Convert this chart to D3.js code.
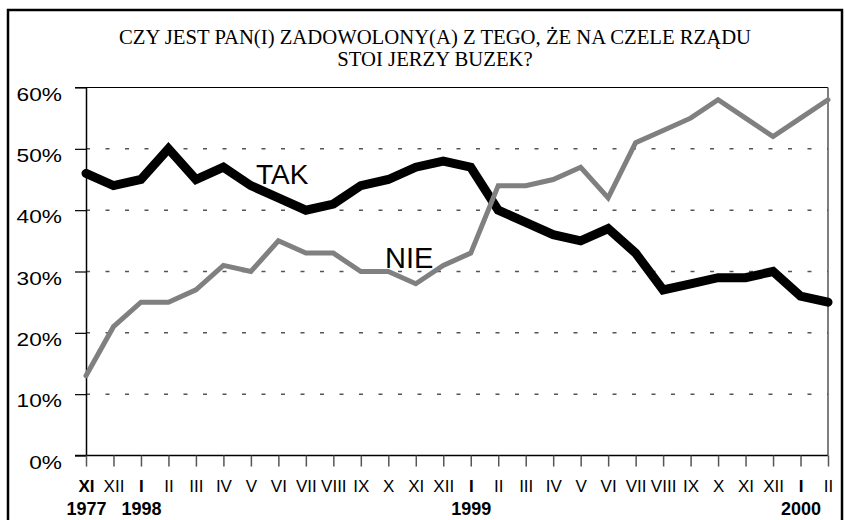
<!DOCTYPE html>
<html>
<head>
<meta charset="utf-8">
<script src="https://cdn.jsdelivr.net/npm/d3@7"></script>
<style>
  body { margin: 0; background: #fff; }
  svg { display: block; }
</style>
</head>
<body>
<script>
const months = ['XI', 'XII', 'I', 'II', 'III', 'IV', 'V', 'VI', 'VII', 'VIII', 'IX', 'X', 'XI', 'XII',
  'I', 'II', 'III', 'IV', 'V', 'VI', 'VII', 'VIII', 'IX', 'X', 'XI', 'XII', 'I', 'II'];
const years = ['1977', '', '1998', '', '', '', '', '', '', '', '', '', '', '',
  '1999', '', '', '', '', '', '', '', '', '', '', '', '2000', ''];
const tak = [46, 44, 45, 50, 45, 47, 44, 42, 40, 41, 44, 45, 47, 48,
  47, 40, 38, 36, 35, 37, 33, 27, 28, 29, 29, 30, 26, 25];
const nie = [13, 21, 25, 25, 27, 31, 30, 35, 33, 33, 30, 30, 28, 31,
  33, 44, 44, 45, 47, 42, 51, 53, 55, 58, 55, 52, 55, 58];
const yTicks = [0, 10, 20, 30, 40, 50, 60];
const titleLines = ['CZY JEST PAN(I) ZADOWOLONY(A) Z TEGO, ŻE NA CZELE RZĄDU', 'STOI JERZY BUZEK?'];

const width = 845, height = 520;
const plotLeft = 86, plotRight = 828, plotTop = 87.5, plotBottom = 455.5;

const svg = d3.select('body')
  .append('svg')
  .attr('width', width)
  .attr('height', height);

// outer frame
svg.append('rect')
  .attr('x', 8).attr('y', 10)
  .attr('width', 834).attr('height', 530)
  .attr('fill', 'none')
  .attr('stroke', '#000')
  .attr('stroke-width', 2.5);

svg.append('g')
  .selectAll('text')
  .data(titleLines)
  .enter()
  .append('text')
  .attr('x', 435)
  .attr('y', (d, i) => 44 + i * 22)
  .attr('text-anchor', 'middle')
  .attr('font-family', '"Liberation Serif", "Times New Roman", serif')
  .attr('font-size', 20.7)
  .text((d) => d);

const xScale = d3.scaleLinear()
  .domain([0, months.length - 1])
  .range([plotLeft, plotRight]);

const yScale = d3.scaleLinear()
  .domain([0, 60])
  .range([plotBottom, plotTop]);

// grid lines
svg.append('g')
  .selectAll('line')
  .data(yTicks.filter((d) => d > 0 && d < 60))
  .enter()
  .append('line')
  .attr('x1', plotLeft).attr('x2', plotRight)
  .attr('y1', (d) => yScale(d)).attr('y2', (d) => yScale(d))
  .attr('stroke', '#555')
  .attr('stroke-width', 1.5)
  .attr('stroke-dasharray', '4,15.5');

// y axis
const yAxis = d3.axisLeft(yScale)
  .tickValues(yTicks)
  .tickSize(11)
  .tickSizeOuter(0)
  .tickFormat((d) => d + '%');

const gy = svg.append('g')
  .attr('transform', 'translate(' + plotLeft + ', 0)')
  .call(yAxis);
gy.select('.domain').attr('stroke', '#000').attr('stroke-width', 1.5);
gy.selectAll('.tick line').attr('stroke', '#000').attr('stroke-width', 1.2);
gy.selectAll('.tick text')
  .attr('x', null).attr('dy', null)
  .attr('transform', 'translate(-24, 12.5) scale(1.22, 1)')
  .attr('font-family', '"Liberation Sans", Arial, sans-serif')
  .attr('font-size', 18.6)
  .attr('fill', '#000');

// top and bottom frame lines of the plot
svg.append('g')
  .selectAll('line')
  .data([0, 60])
  .enter()
  .append('line')
  .attr('x1', plotLeft - 11).attr('x2', plotRight)
  .attr('y1', (d) => yScale(d)).attr('y2', (d) => yScale(d))
  .attr('stroke', '#000')
  .attr('stroke-width', (d) => d === 0 ? 1.5 : 1.2);

// right axis
svg.append('line')
  .attr('x1', plotRight).attr('x2', plotRight)
  .attr('y1', plotTop).attr('y2', plotBottom)
  .attr('stroke', '#555')
  .attr('stroke-width', 1.5);

// x axis
const xAxis = d3.axisBottom(xScale)
  .tickValues(d3.range(months.length))
  .tickSize(11)
  .tickSizeOuter(0)
  .tickFormat((i) => months[i]);

const gx = svg.append('g')
  .attr('transform', 'translate(0, ' + plotBottom + ')')
  .call(xAxis);
gx.select('.domain').remove();
gx.selectAll('.tick line').attr('stroke', '#555').attr('stroke-width', 1.5);
gx.selectAll('.tick text')
  .attr('y', 36).attr('dy', null)
  .attr('font-family', '"Liberation Sans", Arial, sans-serif')
  .attr('font-size', 17)
  .attr('font-weight', (i) => years[i] ? 'bold' : 'normal')
  .attr('fill', '#000');
gx.selectAll('.tick')
  .filter((i) => years[i])
  .append('text')
  .attr('y', 59.5)
  .attr('text-anchor', 'middle')
  .attr('font-family', '"Liberation Sans", Arial, sans-serif')
  .attr('font-size', 18)
  .attr('font-weight', 'bold')
  .attr('fill', '#000')
  .text((i) => years[i]);

const line = d3.line()
  .x((d, i) => xScale(i))
  .y((d) => yScale(d));

svg.append('path')
  .datum(tak)
  .attr('d', line)
  .attr('fill', 'none')
  .attr('stroke', '#000')
  .attr('stroke-width', 9)
  .attr('stroke-linejoin', 'miter')
  .attr('stroke-miterlimit', 3)
  .attr('stroke-linecap', 'round');

svg.append('path')
  .datum(nie)
  .attr('d', line)
  .attr('fill', 'none')
  .attr('stroke', '#808080')
  .attr('stroke-width', 5)
  .attr('stroke-linejoin', 'miter')
  .attr('stroke-miterlimit', 3)
  .attr('stroke-linecap', 'round');

svg.append('text')
  .attr('x', 256).attr('y', 183.5)
  .attr('font-family', '"Liberation Sans", Arial, sans-serif')
  .attr('font-size', 28)
  .text('TAK');

svg.append('text')
  .attr('x', 385).attr('y', 268)
  .attr('font-family', '"Liberation Sans", Arial, sans-serif')
  .attr('font-size', 29)
  .text('NIE');
</script>
</body>
</html>
